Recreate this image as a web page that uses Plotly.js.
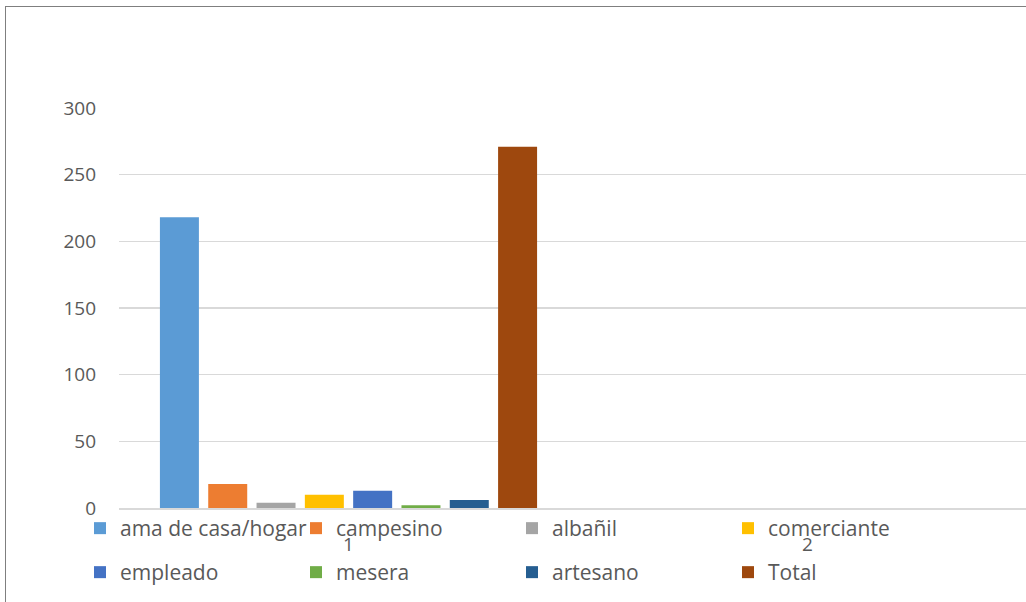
<!DOCTYPE html>
<html>
<head>
<meta charset="utf-8">
<script src="https://cdn.plot.ly/plotly-3.0.1.min.js"></script>
<style>
  html, body { margin: 0; padding: 0; overflow: hidden; background: #ffffff; }
  #chart { position: absolute; left: 0; top: 0; width: 1045px; height: 602px; }
  #frame { position: absolute; left: 5px; top: 6px; width: 1100px; height: 700px;
           border: 1px solid #7f7f7f; box-sizing: border-box; pointer-events: none; }
</style>
</head>
<body>
<div id="chart"></div>
<div id="frame"></div>
<script>
// Categories on the x axis
const categories = ["1", "2"];

// Series names (legend order) and colours
const seriesNames = ["ama de casa/hogar", "campesino", "albañil", "comerciante",
                     "empleado", "mesera", "artesano", "Total"];
const seriesColors = ["#5B9BD5", "#ED7D31", "#A5A5A5", "#FFC000",
                      "#4472C4", "#70AD47", "#255E91", "#9E480E"];

// Values per series for categories "1" and "2" (category 2 is empty)
const amaDeCasa   = [218, null];
const campesino   = [18, null];
const albanil     = [4, null];
const comerciante = [10, null];
const empleado    = [13, null];
const mesera      = [2, null];
const artesano    = [6, null];
const total       = [271, null];

const seriesValues = [amaDeCasa, campesino, albanil, comerciante,
                      empleado, mesera, artesano, total];

// Y axis ticks
const yTicks = [0, 50, 100, 150, 200, 250, 300];

const FONT = "'Open Sans', 'Noto Sans', sans-serif";
const TXT = "#595959";

const traces = seriesNames.map((name, i) => ({
  type: "bar",
  name: name,
  x: categories,
  y: seriesValues[i],
  marker: { color: seriesColors[i], line: { width: 0 } },
  legend: i < 4 ? "legend" : "legend2",
  hoverinfo: "name+y"
}));

const legendCommon = {
  orientation: "h",
  xref: "container",
  yref: "container",
  xanchor: "left",
  yanchor: "top",
  entrywidth: 171,
  entrywidthmode: "pixels",
  itemwidth: 30,
  traceorder: "normal",
  bgcolor: "rgba(0,0,0,0)",
  font: { family: FONT, size: 21, color: TXT }
};

const layout = {
  width: 1045,
  height: 602,
  margin: { l: 119, r: 8, t: 108, b: 94, pad: 0 },
  paper_bgcolor: "#ffffff",
  plot_bgcolor: "#ffffff",
  barmode: "group",
  bargap: 0.158,
  bargroupgap: 0.193,
  showlegend: true,
  legend: Object.assign({}, legendCommon, { x: 80 / 1045, y: 1 - 508 / 602 }),
  legend2: Object.assign({}, legendCommon, { x: 80 / 1045, y: 1 - 552 / 602 }),
  xaxis: {
    type: "category",
    categoryorder: "array",
    categoryarray: categories,
    range: [-0.5, 1.5],
    showgrid: false,
    zeroline: false,
    showline: true,
    linecolor: "#d9d9d9",
    linewidth: 1.5,
    ticks: "",
    ticklabelstandoff: 19,
    tickfont: { family: FONT, size: 19, color: TXT },
    fixedrange: true
  },
  yaxis: {
    range: [0, 300],
    tickmode: "array",
    tickvals: yTicks,
    ticktext: yTicks.map(String),
    showgrid: true,
    gridcolor: "#d9d9d9",
    gridwidth: 1.3,
    zeroline: false,
    showline: false,
    ticks: "",
    ticklabelstandoff: 22,
    tickfont: { family: FONT, size: 19, color: TXT },
    fixedrange: true
  }
};

Plotly.newPlot("chart", traces, layout, { displayModeBar: false, staticPlot: true });
</script>
</body>
</html>
